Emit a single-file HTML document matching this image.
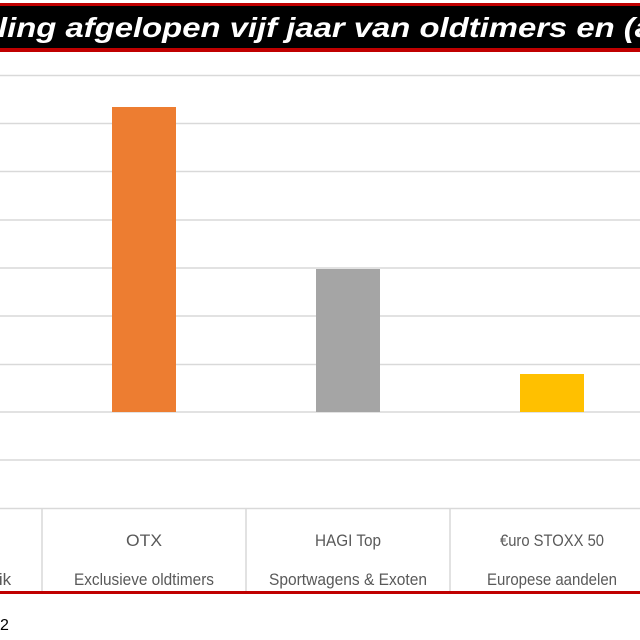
<!DOCTYPE html>
<html><head><meta charset="utf-8"><style>
html,body{margin:0;padding:0;background:#fff;width:640px;height:640px;overflow:hidden}
</style></head><body>
<svg width="640" height="640" xmlns="http://www.w3.org/2000/svg" font-family="'Liberation Sans', sans-serif">
<rect x="0" y="0" width="640" height="640" fill="#fff"/>
<rect x="-5" y="3" width="650" height="49" fill="#c00000"/>
<rect x="-5" y="6" width="650" height="42" fill="#000"/>
<text x="-2" y="37" fill="#fff" font-size="28" font-style="italic" font-weight="bold" textLength="655" lengthAdjust="spacingAndGlyphs">ling afgelopen vijf jaar van oldtimers en (a</text>
<g stroke="#d9d9d9" stroke-width="1.5">
<line x1="0" x2="640" y1="75.5" y2="75.5"/>
<line x1="0" x2="640" y1="123.5" y2="123.5"/>
<line x1="0" x2="640" y1="171.5" y2="171.5"/>
<line x1="0" x2="640" y1="220" y2="220"/>
<line x1="0" x2="640" y1="268" y2="268"/>
<line x1="0" x2="640" y1="316" y2="316"/>
<line x1="0" x2="640" y1="364.5" y2="364.5"/>
<line x1="0" x2="640" y1="412" y2="412"/>
<line x1="0" x2="640" y1="460" y2="460"/>
<line x1="0" x2="640" y1="508.5" y2="508.5"/>
<line x1="42" x2="42" y1="508" y2="592"/>
<line x1="246" x2="246" y1="508" y2="592"/>
<line x1="450" x2="450" y1="508" y2="592"/>
</g>
<rect x="112" y="107" width="64" height="305" fill="#ed7d31"/>
<rect x="316" y="269" width="64" height="143" fill="#a5a5a5"/>
<rect x="520" y="374" width="64" height="38" fill="#ffc000"/>
<g fill="#595959" font-size="17" text-anchor="middle">
<text x="144" y="546" textLength="36" lengthAdjust="spacingAndGlyphs">OTX</text>
<text x="144" y="585" textLength="140" lengthAdjust="spacingAndGlyphs">Exclusieve oldtimers</text>
<text x="348" y="546" textLength="66" lengthAdjust="spacingAndGlyphs">HAGI Top</text>
<text x="348" y="585" textLength="158" lengthAdjust="spacingAndGlyphs">Sportwagens &amp; Exoten</text>
<text x="552" y="546" textLength="104" lengthAdjust="spacingAndGlyphs">€uro STOXX 50</text>
<text x="552" y="585" textLength="130" lengthAdjust="spacingAndGlyphs">Europese aandelen</text>
<text x="5" y="585">ik</text>
</g>
<rect x="0" y="591" width="640" height="3" fill="#c00000"/>
<text x="0" y="630" font-size="16" fill="#000">2</text>
</svg>
</body></html>
